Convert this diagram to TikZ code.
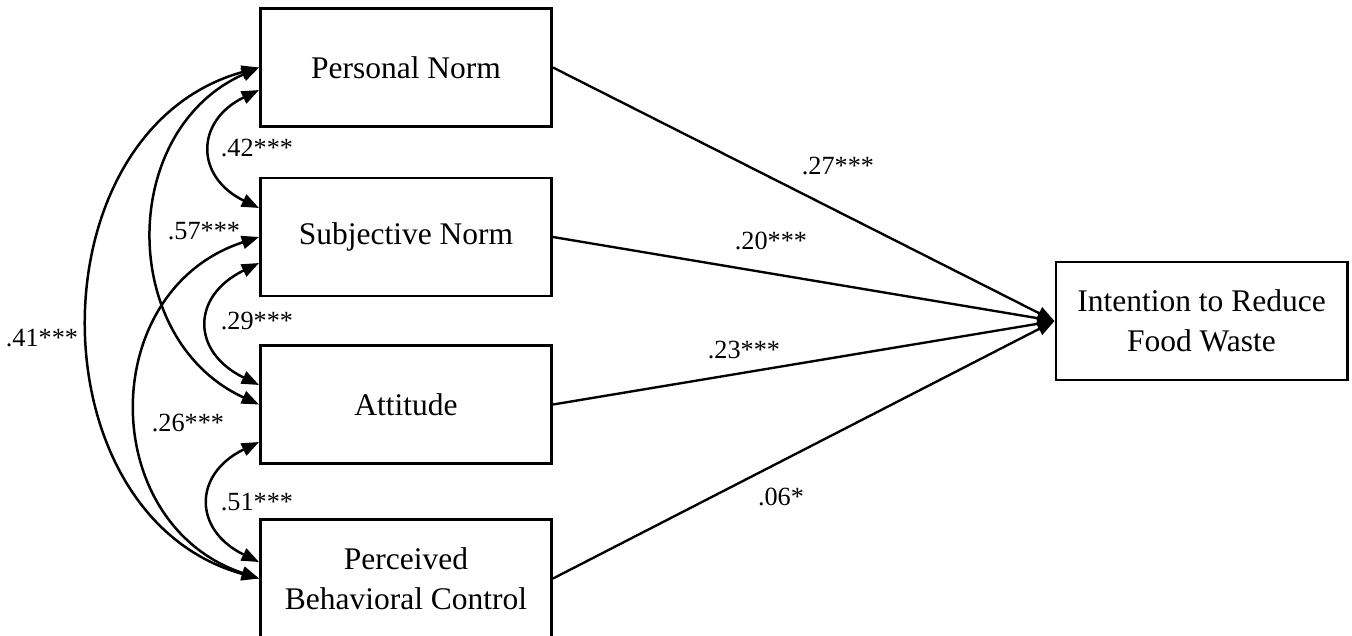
\documentclass[tikz,border=0pt]{standalone}
\usepackage{fontspec}
\setmainfont{Liberation Serif}
\usetikzlibrary{arrows.meta,calc}

\begin{document}
\begin{tikzpicture}[x=0.381pt,y=-0.381pt,
    box/.style={draw,line width=1pt,minimum width=111pt,minimum height=45pt,
      inner sep=0pt,align=center,font=\fontsize{12}{15.2}\selectfont},
    coef/.style={font=\fontsize{10}{12}\selectfont},
    effect/.style={line width=0.9pt,-{Triangle[length=6.6pt,width=5pt]}},
    corr/.style={line width=0.95pt,{Triangle[length=6.6pt,width=5pt]}-{Triangle[length=6.6pt,width=5pt]}}]
      \useasboundingbox (0,0) rectangle (1352,635);
      \node[box] (pn) at (406,67.5) {Personal Norm};
      \node[box] (sn) at (406,237) {Subjective Norm};
      \node[box] (att) at (406,404.5) {Attitude};
      \node[box] (pbc) at (406,578.5) {Perceived\\Behavioral Control};
      \node[box] (int) at (1201.5,321) {Intention to Reduce\\Food Waste};
      \draw [effect] (pn.east) -- (int.west);
      \draw [effect] (sn.east) -- (int.west);
      \draw [effect] (att.east) -- (int.west);
      \draw [effect] (pbc.east) -- (int.west);
      \node[coef] (b1) at (838,166) {.27***};
      \node[coef] (b2) at (771,241) {.20***};
      \node[coef] (b3) at (744,350) {.23***};
      \node[coef] (b4) at (781,497) {.06*};
      \draw [corr] ($(pn.west)+(0,22.5)$) .. controls (195,121) and (195,177) .. ($(sn.west)+(0,-29)$);
      \draw [corr] ($(sn.west)+(0,26)$) .. controls (191,296) and (191,352) .. ($(att.west)+(0,-19.5)$);
      \draw [corr] ($(att.west)+(0,37.5)$) .. controls (193,474) and (193,530) .. ($(pbc.west)+(0,-16.5)$);
      \draw [corr] (pn.west) .. controls (118,130) and (118,340) .. (att.west);
      \draw [corr] (pn.west) .. controls (32,130) and (32,516) .. (pbc.west);
      \draw [corr] (sn.west) .. controls (96,290) and (96,524) .. (pbc.west);
      \node[coef] (r1) at (257,148) {.42***};
      \node[coef] (r2) at (204,231) {.57***};
      \node[coef] (r3) at (257,321) {.29***};
      \node[coef] (r4) at (42,338) {.41***};
      \node[coef] (r5) at (188,423) {.26***};
      \node[coef] (r6) at (257,502) {.51***};
\end{tikzpicture}
\end{document}
